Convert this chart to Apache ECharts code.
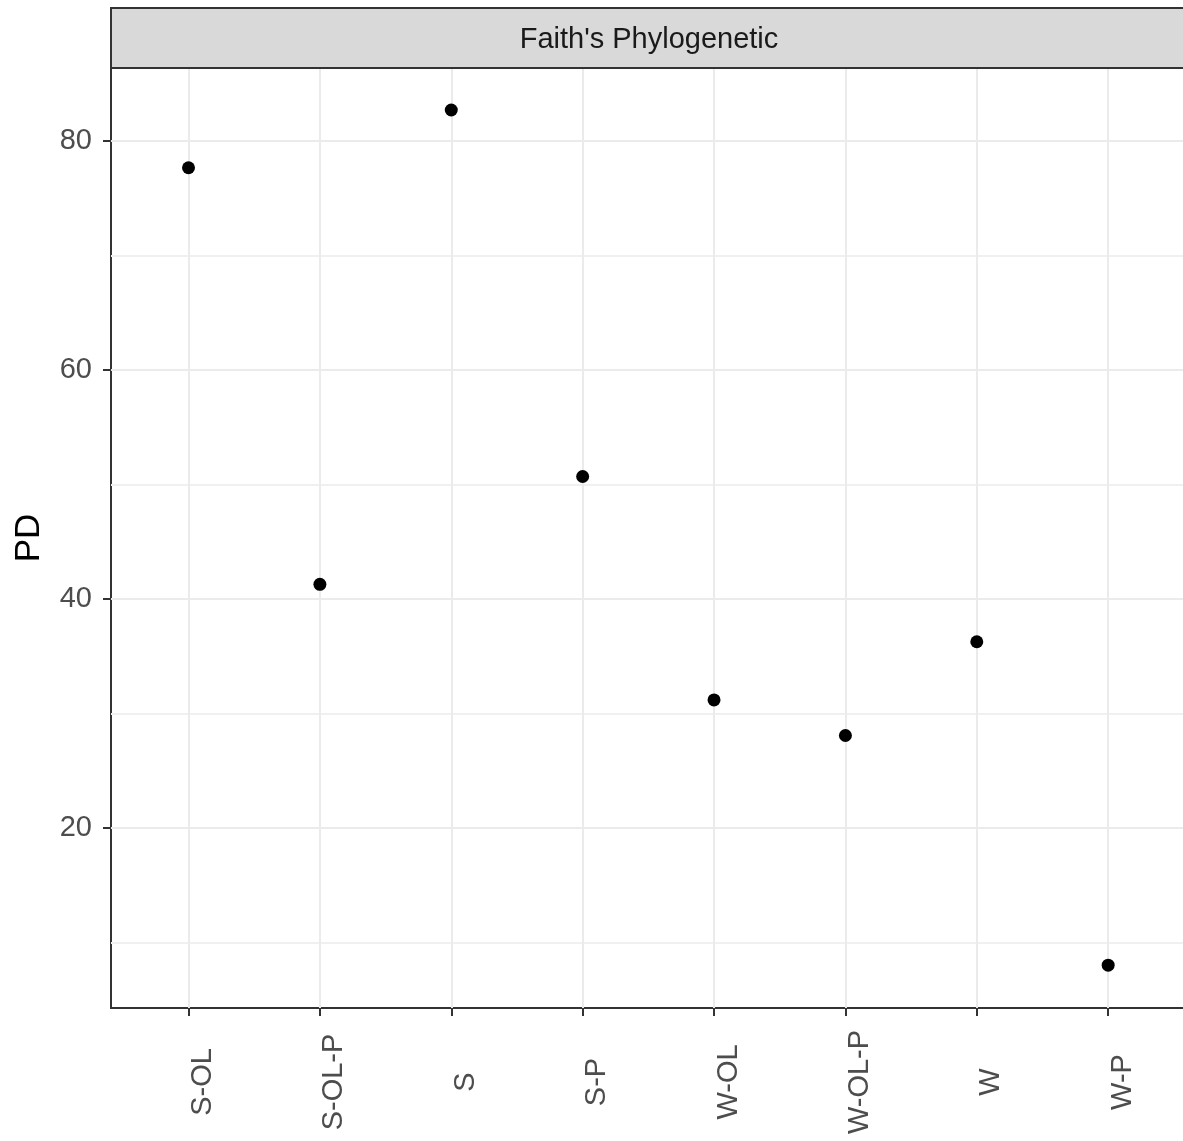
<!DOCTYPE html>
<html>
<head>
<meta charset="utf-8">
<script src="https://cdn.jsdelivr.net/npm/echarts@6/dist/echarts.min.js"></script>
<style>
  html, body { margin: 0; padding: 0; background: #fff; }
  #chart { width: 1183px; height: 1141px; }
</style>
</head>
<body>
<div id="chart"></div>
<script>
const categories = ['S-OL', 'S-OL-P', 'S', 'S-P', 'W-OL', 'W-OL-P', 'W', 'W-P']
const pdValues = [77.67, 41.28, 82.71, 50.7, 31.19, 28.08, 36.27, 8.02]
const yMajorTicks = [20, 40, 60, 80]
const yMinorTicks = [10, 30, 50, 70]
const stripTitle = "Faith's Phylogenetic"

const font = '"Liberation Sans", Arial, sans-serif'
const gridColor = '#ebebeb'
const darkLine = '#333333'

const chart = echarts.init(document.getElementById('chart'))

const xIdx = categories.map((_, i) => i)

const yRange = { min: 4.28, max: 86.38 }

chart.setOption({
  animation: false,
  backgroundColor: '#ffffff',
  textStyle: { fontFamily: font },
  grid: {
    left: 111,
    top: 68,
    width: 1076,
    bottom: 133,
    containLabel: false,
    outerBoundsMode: 'none',
    show: true,
    borderColor: darkLine,
    borderWidth: 2,
    backgroundColor: 'transparent'
  },
  graphic: [
    {
      type: 'rect',
      shape: { x: 111, y: 8, width: 1076, height: 60 },
      style: { fill: '#d9d9d9', stroke: darkLine, lineWidth: 2 },
      z: 10
    },
    {
      type: 'text',
      x: 649,
      y: 40,
      style: {
        text: stripTitle,
        fill: '#1a1a1a',
        font: '29px ' + font,
        textAlign: 'center',
        textVerticalAlign: 'middle'
      },
      z: 11
    }
  ],
  xAxis: {
    type: 'value',
    min: -0.59,
    max: 7.6,
    axisLine: { show: false, onZero: false },
    axisTick: {
      show: true,
      customValues: xIdx,
      length: 8,
      lineStyle: { color: darkLine, width: 2 }
    },
    axisLabel: {
      customValues: xIdx,
      formatter: v => categories[Math.round(v)],
      rotate: 90,
      align: 'center',
      verticalAlign: 'top',
      margin: 74,
      fontSize: 29,
      color: '#4d4d4d',
      fontFamily: font
    },
    splitLine: { show: true, lineStyle: { color: gridColor, width: 2 } }
  },
  yAxis: [
    {
      type: 'value',
      min: yRange.min,
      max: yRange.max,
      name: 'PD',
      nameLocation: 'middle',
      nameRotate: 90,
      nameGap: 82,
      nameTextStyle: { fontSize: 35, color: '#000', fontFamily: font, verticalAlign: 'middle' },
      axisLine: { show: false, onZero: false },
      axisTick: {
        show: true,
        customValues: yMajorTicks,
        length: 8,
        lineStyle: { color: darkLine, width: 2 }
      },
      axisLabel: {
        customValues: yMajorTicks,
        margin: 19,
        fontSize: 29,
        color: '#4d4d4d',
        fontFamily: font
      },
      splitLine: { show: true, lineStyle: { color: gridColor, width: 2 } }
    },
    {
      type: 'value',
      min: yRange.min,
      max: yRange.max,
      axisLine: { show: false, onZero: false },
      axisTick: { show: false, customValues: yMinorTicks },
      axisLabel: { show: false, customValues: yMinorTicks },
      splitLine: { show: true, lineStyle: { color: '#f0f0f0', width: 2 } }
    }
  ],
  series: [
    {
      type: 'scatter',
      data: pdValues.map((v, i) => [i, v]),
      symbol: 'circle',
      symbolSize: 13,
      itemStyle: { color: '#000', opacity: 1 },
      z: 5
    }
  ]
})
</script>
</body>
</html>
